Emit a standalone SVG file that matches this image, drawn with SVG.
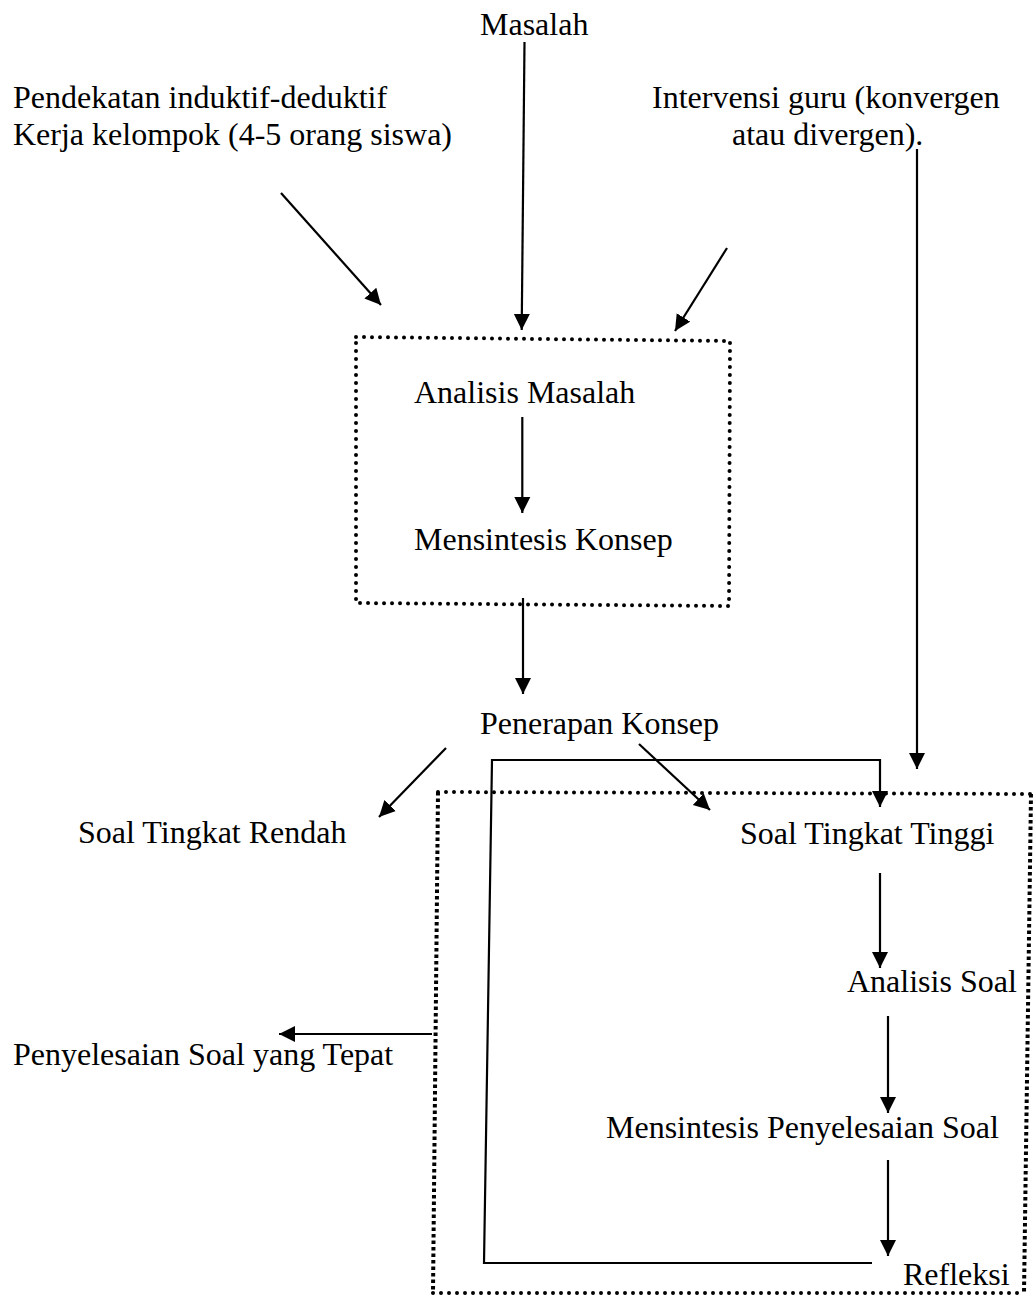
<svg xmlns="http://www.w3.org/2000/svg" width="1033" height="1298" viewBox="0 0 1033 1298">
<style>
text{font-family:"Liberation Serif","Times New Roman",serif;font-size:32px;fill:#000}
.c{fill:none;stroke:#000;stroke-width:2.2}
.a{marker-end:url(#ah)}
.dot{fill:none;stroke:#000;stroke-width:4;stroke-linecap:round;stroke-dasharray:0 8}
.dash{fill:none;stroke:#000;stroke-width:4;stroke-dasharray:3.5 3}
</style>
<defs>
<marker id="ah" markerUnits="userSpaceOnUse" markerWidth="18" markerHeight="18" refX="16" refY="8.5" orient="auto">
<path d="M0,0.5 L16,8.5 L0,16.5 z" fill="#000"/>
</marker>
</defs>
<rect width="1033" height="1298" fill="#fff"/>
<g id="box1">
<path class="dot" d="M356,337 L730,341 L729,606 L356,603 Z"/>
</g>
<g id="box2">
<path class="dot" d="M438,792 L1031,794"/>
<path class="dot" d="M433,1293 L1024,1293"/>
<path class="dash" d="M438,792 L433,1293"/>
<path class="dash" d="M1031,794 L1024,1293"/>
</g>
<g id="n-masalah"><text x="480" y="35">Masalah</text></g>
<g id="n-pendekatan"><text x="13" y="108">Pendekatan induktif-deduktif</text><text x="13" y="145">Kerja kelompok (4-5 orang siswa)</text></g>
<g id="n-intervensi"><text x="652" y="108">Intervensi guru (konvergen</text><text x="732" y="145">atau divergen).</text></g>
<g id="n-analisis-masalah"><text x="414" y="403">Analisis Masalah</text></g>
<g id="n-mensintesis-konsep"><text x="414" y="550">Mensintesis Konsep</text></g>
<g id="n-penerapan"><text x="480" y="734">Penerapan Konsep</text></g>
<g id="n-rendah"><text x="78" y="843">Soal Tingkat Rendah</text></g>
<g id="n-tinggi"><text x="740" y="844">Soal Tingkat Tinggi</text></g>
<g id="n-analisis-soal"><text x="847" y="992">Analisis Soal</text></g>
<g id="n-penyelesaian"><text x="13" y="1065">Penyelesaian Soal yang Tepat</text></g>
<g id="n-mensintesis-soal"><text x="606" y="1138">Mensintesis Penyelesaian Soal</text></g>
<g id="n-refleksi"><text x="903" y="1285">Refleksi</text></g>
<g id="connectors">
<path class="c a" d="M524.5,42 L521.7,330"/>
<path class="c a" d="M281,193 L381,305"/>
<path class="c a" d="M727,248 L675,331"/>
<path class="c a" d="M917,149 L917,769"/>
<path class="c a" d="M522.3,417 L522.3,513"/>
<path class="c a" d="M523,598 L523,694"/>
<path class="c a" d="M446,748 L379,817"/>
<path class="c a" d="M639,744 L710,810"/>
<path class="c a" d="M872,1263 L484,1263 L492,760 L880,760 L880,807"/>
<path class="c a" d="M880,873 L880,968"/>
<path class="c a" d="M888,1016 L888,1113"/>
<path class="c a" d="M888,1160 L888,1256"/>
<path class="c a" d="M432,1034 L279,1034"/>
</g>
</svg>
